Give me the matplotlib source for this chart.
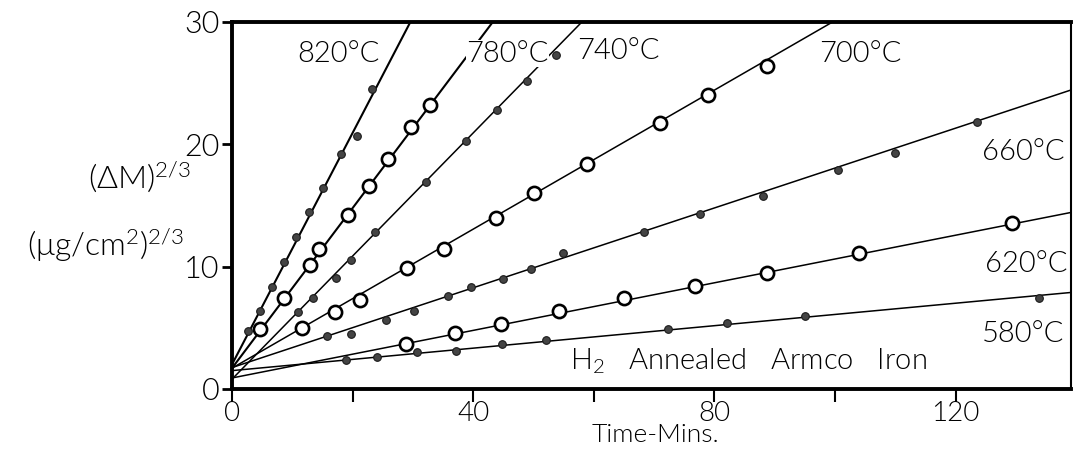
import matplotlib.pyplot as plt
import numpy as np

plt.rcParams['font.family'] = ['Lato', 'DejaVu Sans']
plt.rcParams['font.weight'] = 300
plt.rcParams['mathtext.fontset'] = 'custom'
plt.rcParams['mathtext.rm'] = 'Lato:weight=300'
plt.rcParams['mathtext.it'] = 'Lato:weight=300'

temps = ['820°C', '780°C', '740°C', '700°C', '660°C', '620°C', '580°C']
hollow = [False, True, False, True, False, True, False]
# straight lines drawn through each series
slopes = [0.946, 0.654, 0.503, 0.284, 0.163, 0.0972, 0.0459]
intercepts = [2.0, 1.7, 0.8, 1.7, 1.75, 0.9, 1.5]

t_820 = [2.7, 4.6, 6.7, 8.7, 10.6, 12.7, 15.1, 18.0, 20.8, 23.3]
m_820 = [4.7, 6.4, 8.3, 10.4, 12.4, 14.5, 16.4, 19.2, 20.7, 24.5]
t_780 = [4.6, 8.6, 13.0, 14.5, 19.2, 22.8, 25.9, 29.7, 32.9]
m_780 = [4.9, 7.4, 10.1, 11.4, 14.2, 16.6, 18.8, 21.4, 23.2]
t_740 = [11.0, 13.4, 17.3, 19.7, 23.7, 32.1, 38.8, 44.0, 48.9, 53.7]
m_740 = [6.3, 7.4, 9.1, 10.5, 12.8, 16.9, 20.3, 22.8, 25.2, 27.3]
t_700 = [11.6, 17.0, 21.3, 29.1, 35.1, 43.7, 50.0, 58.9, 70.9, 79.0, 88.8]
m_700 = [5.0, 6.3, 7.3, 9.9, 11.4, 14.0, 16.0, 18.4, 21.7, 24.0, 26.4]
t_660 = [15.7, 19.8, 25.6, 30.1, 35.8, 39.7, 45.0, 49.6, 54.9, 68.3, 77.6,
         88.0, 100.5, 110.0, 123.5]
m_660 = [4.3, 4.5, 5.6, 6.4, 7.6, 8.3, 9.0, 9.8, 11.1, 12.8, 14.3,
         15.8, 17.9, 19.3, 21.8]
t_620 = [28.9, 36.9, 44.6, 54.2, 65.0, 76.7, 88.7, 104.0, 129.4]
m_620 = [3.7, 4.6, 5.3, 6.4, 7.4, 8.4, 9.5, 11.1, 13.6]
t_580 = [18.9, 24.0, 30.6, 37.2, 44.7, 52.1, 72.3, 82.1, 95.0, 133.9]
m_580 = [2.4, 2.6, 3.0, 3.1, 3.7, 4.0, 4.9, 5.4, 6.0, 7.4]

times = [t_820, t_780, t_740, t_700, t_660, t_620, t_580]
masses = [m_820, m_780, m_740, m_700, m_660, m_620, m_580]

label_xy = [(17.6, 27.4), (45.7, 27.4), (64.1, 27.6), (104.2, 27.4),
            (131.3, 19.4), (131.7, 10.2), (131.2, 4.5)]

x_max = 139.2

fig = plt.figure(figsize=(10.74, 4.54), dpi=100)
ax = fig.add_axes([0.216, 0.1432, 0.7816, 0.8088])

xs = np.linspace(0, x_max, 300)
for i in range(len(temps)):
    ax.plot(xs, intercepts[i] + slopes[i] * xs, color='black',
            lw=1.5 if i < 2 else 1.1, zorder=2)
    if hollow[i]:
        ax.plot(times[i], masses[i], 'o', ms=9.5, mfc='white', mec='black',
                mew=1.9, ls='none', zorder=3)
    else:
        ax.plot(times[i], masses[i], 'o', ms=5.5, mfc='#444444', mec='#1a1a1a',
                mew=0.8, ls='none', zorder=3)
    ax.text(label_xy[i][0], label_xy[i][1], temps[i], fontsize=21,
            ha='center', va='center', zorder=4,
            bbox=dict(facecolor='white', edgecolor='none', pad=0.3))

ax.text(56.0, 2.3, r'H$_2$   Annealed   Armco   Iron', fontsize=21,
        ha='left', va='center', zorder=4)

ax.set_xlim(0, x_max)
ax.set_ylim(0, 30)

ax.set_yticks([0, 10, 20, 30])
ax.set_yticklabels(['0', '10', '20', '30'])
ax.set_xticks([0, 20, 40, 60, 80, 100, 120])
ax.set_xticklabels(['0', '', '40', '', '80', '', '120'])
ax.tick_params(axis='y', direction='out', length=7, width=2, pad=2,
               labelsize=22)
ax.tick_params(axis='x', direction='out', length=9, width=1.5, pad=0,
               labelsize=20)

for side in ['left', 'bottom', 'top']:
    ax.spines[side].set_linewidth(2.8)
ax.spines['right'].set_linewidth(1.5)

fig.text(0.610, 0.042, 'Time-Mins.', fontsize=19, ha='center', va='center')
fig.text(0.130, 0.610, r'$(\Delta$M$)^{2/3}$', fontsize=23,
         ha='center', va='center')
fig.text(0.098, 0.460, r'$(\mu$g/cm$^2)^{2/3}$', fontsize=23,
         ha='center', va='center')

fig.savefig('out.png', dpi=100)
